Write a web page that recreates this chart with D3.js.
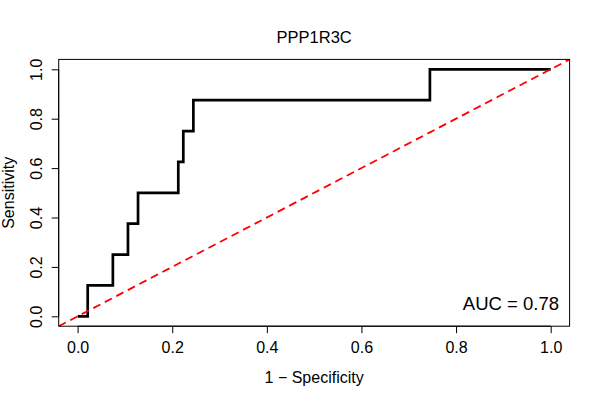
<!DOCTYPE html>
<html>
<head>
<meta charset="utf-8">
<script src="https://cdn.jsdelivr.net/npm/d3@7"></script>
<style>
  html, body { margin: 0; padding: 0; background: #fff; }
  svg { display: block; font-family: "Liberation Sans", Arial, Helvetica, sans-serif; }
</style>
</head>
<body>
<svg id="chart" width="600" height="400"></svg>
<script>
// ROC curve data (1 - specificity, sensitivity)
const fpr = [0, 0.0213, 0.0213, 0.0745, 0.0745, 0.1064, 0.1064, 0.1277, 0.1277, 0.2128, 0.2128, 0.2234, 0.2234, 0.2447, 0.2447, 0.7447, 0.7447, 1];
const tpr = [0, 0, 0.125, 0.125, 0.25, 0.25, 0.375, 0.375, 0.5, 0.5, 0.625, 0.625, 0.75, 0.75, 0.875, 0.875, 1, 1];
const xTicks = [0, 0.2, 0.4, 0.6, 0.8, 1.0];
const yTicks = [0, 0.2, 0.4, 0.6, 0.8, 1.0];
const titleText = "PPP1R3C";
const aucText = "AUC = 0.78";
const xLabel = "1 \u2212 Specificity";
const yLabel = "Sensitivity";

const svg = d3.select("#chart");
const pL = 58.7, pR = 569.6, pT = 59.4, pB = 326.2;

const x = d3.scaleLinear().domain([-0.04, 1.04]).range([pL, pR]);
const y = d3.scaleLinear().domain([-0.04, 1.04]).range([pB, pT]);

svg.append("clipPath").attr("id", "clip")
  .append("rect").attr("x", pL).attr("y", pT).attr("width", pR - pL).attr("height", pB - pT);

// ROC line
const pts = fpr.map((v, i) => [v, tpr[i]]);
svg.append("path")
  .datum(pts)
  .attr("fill", "none")
  .attr("stroke", "#000")
  .attr("stroke-width", 2.7)
  .attr("stroke-linejoin", "miter")
  .attr("d", d3.line().x(d => x(d[0])).y(d => y(d[1])));

// diagonal reference y = x
svg.append("line")
  .attr("clip-path", "url(#clip)")
  .attr("x1", x(-0.04)).attr("y1", y(-0.04))
  .attr("x2", x(1.04)).attr("y2", y(1.04))
  .attr("stroke", "#ff0000")
  .attr("stroke-width", 1.8)
  .attr("stroke-dasharray", "8,5");

// box
svg.append("rect")
  .attr("x", pL).attr("y", pT)
  .attr("width", pR - pL).attr("height", pB - pT)
  .attr("fill", "none").attr("stroke", "#000").attr("stroke-width", 1);

// x axis
const xAxis = d3.axisBottom(x).tickValues(xTicks).tickFormat(d3.format(".1f")).tickSize(7).tickPadding(8.7);
const gx = svg.append("g").attr("transform", `translate(0,${pB})`).call(xAxis);
gx.select(".domain").attr("d", `M${x(0)},0H${x(1)}`).attr("stroke", "#000");
gx.selectAll("text").attr("font-size", 16).attr("font-family", "Liberation Sans, Arial, sans-serif").attr("fill", "#000");
gx.selectAll("line").attr("stroke", "#000");

// y axis
const yAxis = d3.axisLeft(y).tickValues(yTicks).tickFormat(d3.format(".1f")).tickSize(7).tickPadding(5);
const gy = svg.append("g").attr("transform", `translate(${pL},0)`).call(yAxis);
gy.select(".domain").attr("d", `M0,${y(0)}V${y(1)}`).attr("stroke", "#000");
gy.selectAll("line").attr("stroke", "#000");
gy.selectAll(".tick text")
  .attr("font-size", 16).attr("font-family", "Liberation Sans, Arial, sans-serif").attr("fill", "#000")
  .attr("text-anchor", "middle")
  .attr("x", 0).attr("y", 0).attr("dy", null)
  .attr("transform", "translate(-16.7,0) rotate(-90)");

// title
svg.append("text").attr("x", (pL + pR) / 2).attr("y", 43)
  .attr("text-anchor", "middle").attr("font-size", 16.5).text(titleText);

// axis labels
svg.append("text").attr("x", (pL + pR) / 2).attr("y", 383)
  .attr("text-anchor", "middle").attr("font-size", 16).text(xLabel);
svg.append("text").attr("transform", `translate(14,${(pT + pB) / 2}) rotate(-90)`)
  .attr("text-anchor", "middle").attr("font-size", 16).text(yLabel);

// AUC
svg.append("text").attr("x", 559).attr("y", 310)
  .attr("text-anchor", "end").attr("font-size", 18.5).text(aucText);
</script>
</body>
</html>
